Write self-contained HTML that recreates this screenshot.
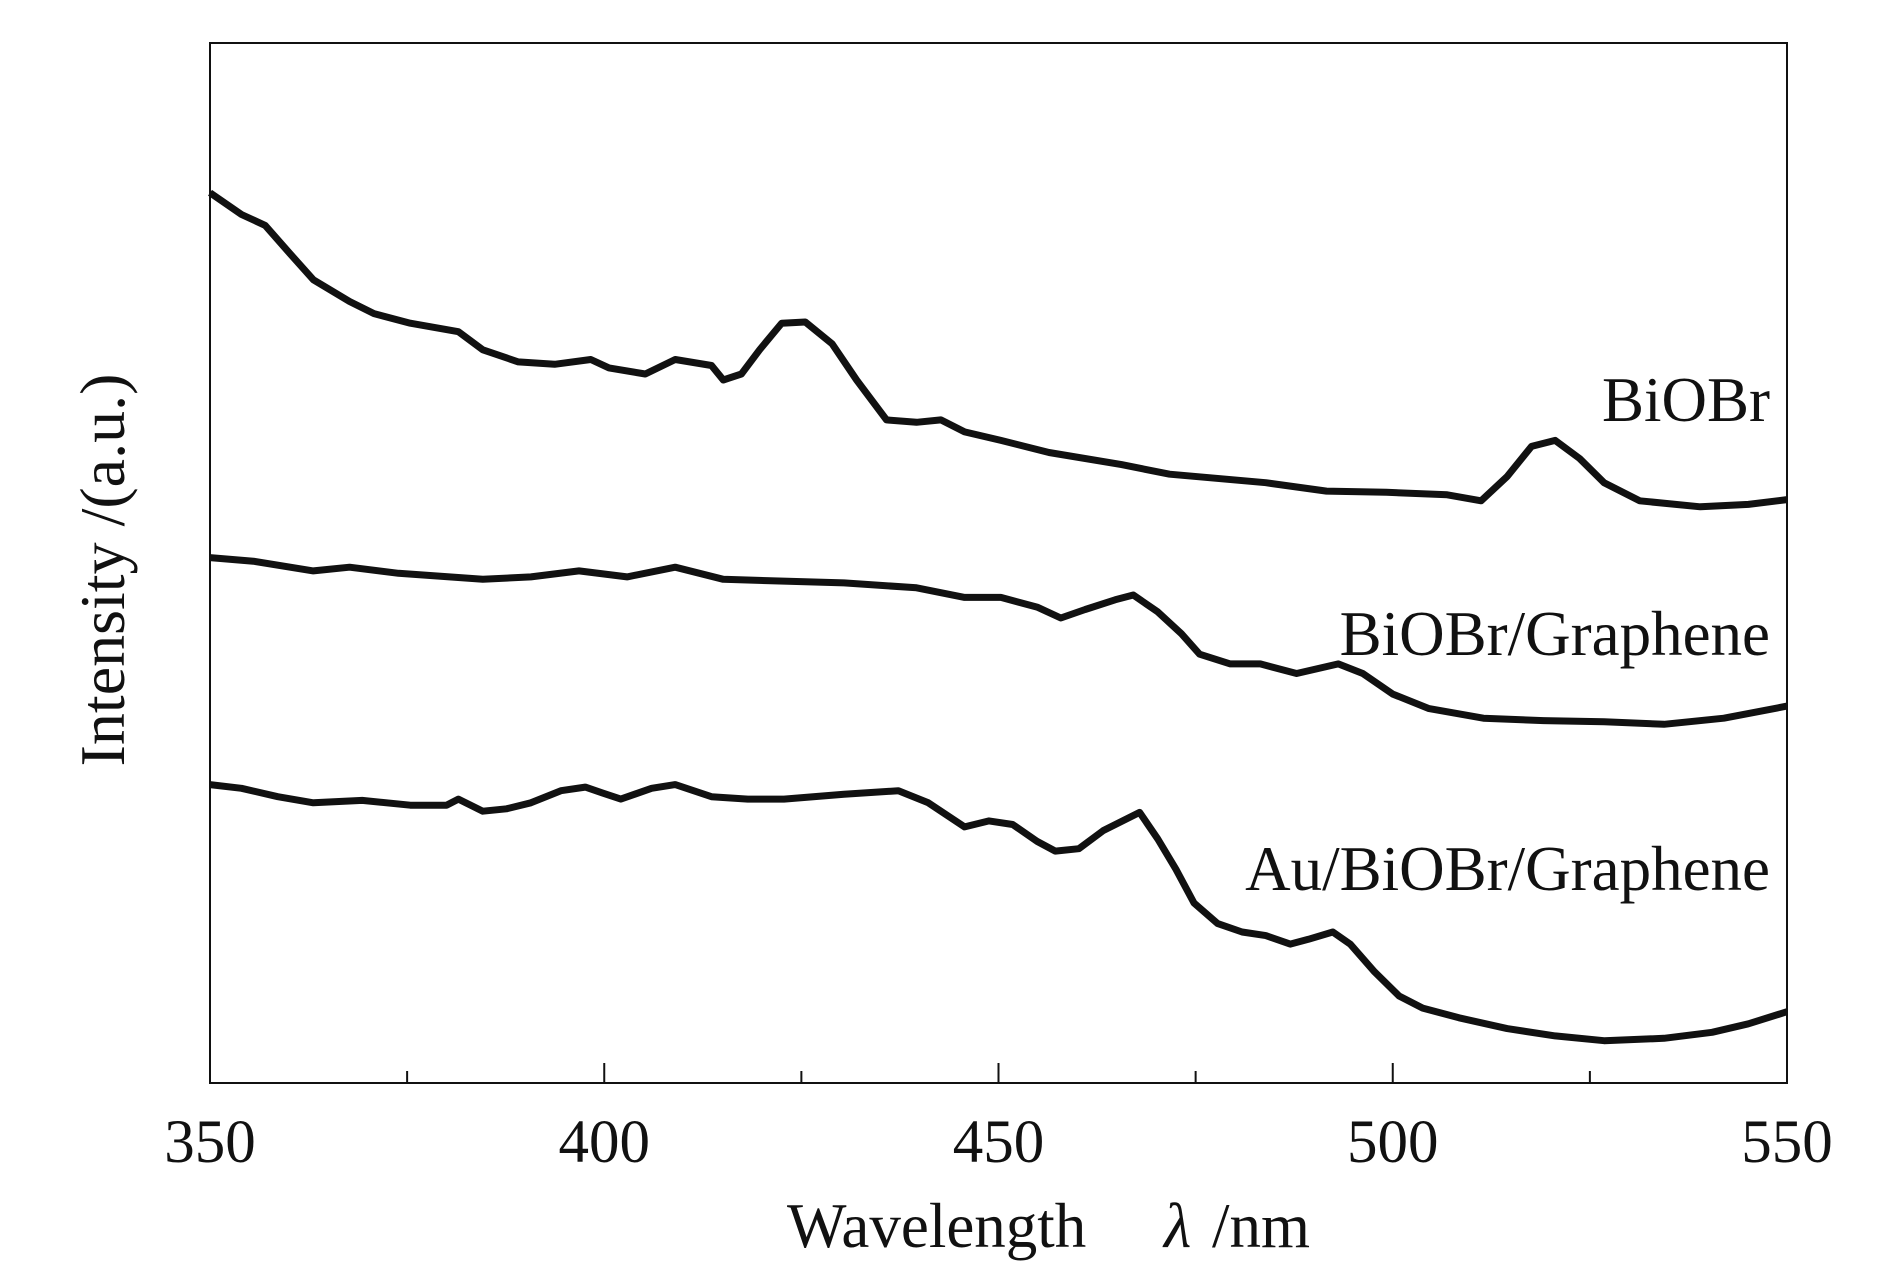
<!DOCTYPE html>
<html><head><meta charset="utf-8">
<style>
html,body{margin:0;padding:0;background:#fff;}
svg{display:block;}
text{font-family:"Liberation Serif",serif;fill:#111;}
</style></head>
<body>
<svg id="chart" width="1890" height="1276" viewBox="0 0 1890 1276">
<rect x="210" y="43" width="1577" height="1040" fill="none" stroke="#111" stroke-width="2"/>
<g id="xticks"></g>
<g id="series"></g>
<g>
<text x="787" y="1247" font-size="63">Wavelength</text>
<text x="1164" y="1247" font-size="63" font-style="italic">λ</text>
<text x="1212" y="1247" font-size="63">/nm</text>
</g>
<text transform="translate(124,570) rotate(-90)" font-size="64" text-anchor="middle">Intensity /(a.u.)</text>
<text x="1770" y="421" font-size="63" text-anchor="end">BiOBr</text>
<text x="1770" y="655" font-size="63" text-anchor="end">BiOBr/Graphene</text>
<text x="1770" y="890" font-size="63" text-anchor="end">Au/BiOBr/Graphene</text>
</svg>
<script>
const xTickValues = [350,375,400,425,450,475,500,525,550];
const xTickLabels = ["350","","400","","450","","500","","550"];
const wlBiOBr = [350,354,357,360.1,363.1,367.7,370.8,375.4,381.5,384.6,389.1,393.7,398.3,400.6,405.2,409,413.6,415.1,417.4,419.7,422.5,425.5,428.9,432,435.8,439.6,442.7,445.7,450.3,456.4,465.6,471.7,483.9,491.6,499.2,506.9,511.2,514.5,517.6,520.6,523.7,526.8,531.3,539,545.1,550];
const iBiOBr = [737,719,710,687,665,647,637,629,622,607,597,595,599,592,587,599,594,582,587,607,629,630,612,582,549,547,549,539,532,522,512,504,497,490,489,487,482,502,527,532,517,497,482,477,479,483];
const wlGraphene = [350,355.5,363.1,367.7,373.9,384.6,390.7,396.8,402.9,409,415.1,430.4,439.6,445.7,450.3,454.9,457.9,461,464.8,467.1,470.2,473.2,475.5,479.4,483.2,487.8,493.1,496.2,500,504.6,511.5,519.1,526.8,534.4,542,550];
const iGraphene = [435,432,424,427,422,417,419,424,419,427,417,414,410,402,402,394,385,392,400,404,390,372,355,347,347,339,347,339,322,310,302,300,299,297,302,312];
const wlAu = [350,354,358.6,363.1,369.3,375.4,380,381.5,384.6,387.6,390.7,394.5,397.6,399.8,402.1,406,409,413.6,418.2,422.8,430.4,437.3,441.1,445.7,448.8,451.8,454.9,457.2,460.2,463.3,467.9,470.2,472.5,474.8,477.8,480.9,483.9,487,489.3,492.4,494.6,497.7,500.8,503.8,508.4,514.5,520.6,526.8,534.4,540.5,545.1,550];
const iAu = [247,244,237,232,234,230,230,235,225,227,232,242,245,240,235,244,247,237,235,235,239,242,232,212,217,214,200,192,194,209,224,202,177,149,132,125,122,115,119,125,115,92,72,62,54,45,39,35,37,42,49,59];

const NS="http://www.w3.org/2000/svg";
const X0=210,X1=1787,Y0=1083,Y1=43;
function xs(w){return X0+(w-350)/200*(X1-X0);}
function ys(v){return Y0-v/861*(Y0-Y1);}

const gx=document.getElementById('xticks');
xTickValues.forEach((v,i)=>{
  const major=xTickLabels[i]!=="";
  const t=document.createElementNS(NS,'line');
  t.setAttribute('x1',xs(v));t.setAttribute('x2',xs(v));
  t.setAttribute('y1',Y0);t.setAttribute('y2',Y0-(major?20:12));
  t.setAttribute('stroke','#111');t.setAttribute('stroke-width','2');
  
  
  gx.appendChild(t);
  if(major){
    const l=document.createElementNS(NS,'text');
    l.setAttribute('x',xs(v));l.setAttribute('y',1162);
    l.setAttribute('font-size','61');l.setAttribute('text-anchor','middle');
    l.textContent=xTickLabels[i];
    
    
    gx.appendChild(l);
  }
});

const gs=document.getElementById('series');
function draw(wl,vals,name){
  const d=wl.map((w,i)=>(i?'L':'M')+xs(w).toFixed(1)+','+ys(vals[i]).toFixed(1)).join(' ');
  const p=document.createElementNS(NS,'path');
  p.setAttribute('d',d);p.setAttribute('fill','none');
  p.setAttribute('stroke','#111');p.setAttribute('stroke-width','7');
  p.setAttribute('stroke-linejoin','round');
  
  
  gs.appendChild(p);
}
draw(wlBiOBr,iBiOBr,'line-biobr');
draw(wlGraphene,iGraphene,'line-biobr-graphene');
draw(wlAu,iAu,'line-au-biobr-graphene');
</script>
</body></html>
